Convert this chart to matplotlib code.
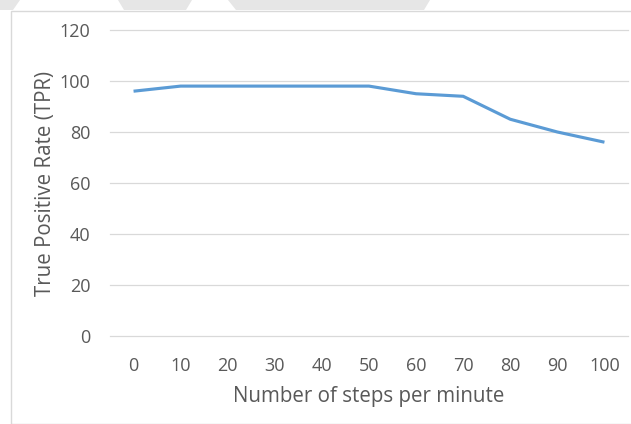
import matplotlib
matplotlib.use('Agg')
from matplotlib import pyplot as plt
from matplotlib.patches import Rectangle, Polygon

# data
steps = ['0', '10', '20', '30', '40', '50', '60', '70', '80', '90', '100']
tpr = [96, 98, 98, 98, 98, 98, 95, 94, 85, 80, 76]
y_ticks = [0, 20, 40, 60, 80, 100, 120]

plt.rcParams['font.family'] = ['Open Sans', 'DejaVu Sans']
grey = '#595959'
W, H = 631, 424

fig = plt.figure(figsize=(W / 100, H / 100), dpi=100)
ax = fig.add_axes([110 / W, 1 - 336 / H, 518 / W, 306 / H])

# faint grey shapes in the top margin (scan background)
def px_poly(pts):
    return Polygon([(px / W, 1 - py / H) for px, py in pts], closed=True,
                   transform=fig.transFigure, facecolor='#e6e6e6', edgecolor='none')

for pts in [[(0, 0), (20, 0), (13, 10), (0, 10)],
            [(118, 0), (192, 0), (186, 10), (124, 10)],
            [(228, 0), (430, 0), (424, 10), (236, 10)]]:
    fig.patches.append(px_poly(pts))

# outer chart border
fig.patches.append(Rectangle((10.5 / W, 0), 1, 1 - 10.5 / H, transform=fig.transFigure,
                             fill=False, edgecolor='#d9d9d9', linewidth=1))

x = list(range(len(steps)))
ax.plot(x, tpr, color='#5b9bd5', linewidth=2.25, solid_capstyle='butt')

ax.set_xlim(-0.5, len(steps) - 0.5)
ax.set_ylim(0, 120)
ax.set_yticks(y_ticks)
ax.set_xticks(x)
ax.set_xticklabels(steps)
ax.grid(axis='y', color='#d9d9d9', linewidth=0.9)
for gl in ax.get_ygridlines():
    gl.set_clip_on(False)
ax.set_axisbelow(True)
for s in ax.spines.values():
    s.set_visible(False)
ax.tick_params(length=0, colors=grey, labelsize=13)
ax.tick_params(axis='x', pad=15)
ax.tick_params(axis='y', pad=14)

ax.set_xlabel('Number of steps per minute', color=grey, fontsize=14.8, labelpad=8)
ax.set_ylabel('True Positive Rate (TPR)', color=grey, fontsize=14.8, labelpad=3)

plt.savefig('out.png', dpi=100)
